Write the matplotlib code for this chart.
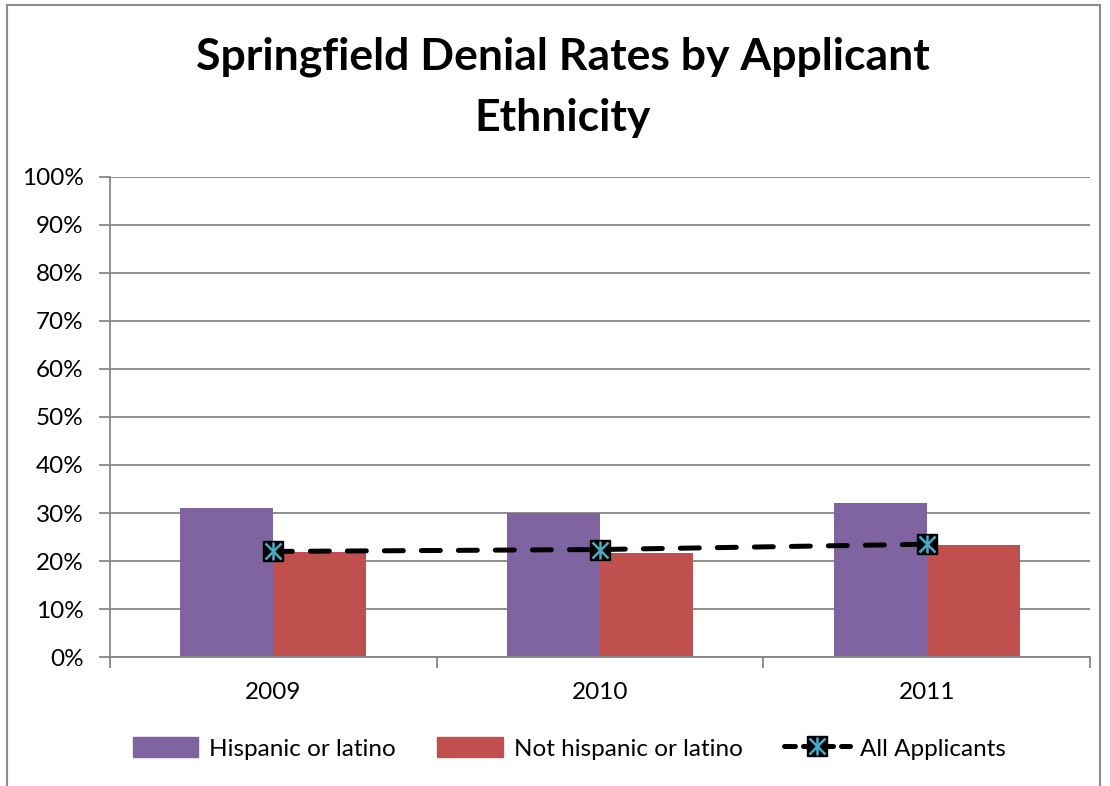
import matplotlib
matplotlib.use('Agg')
import matplotlib.pyplot as plt
from matplotlib.lines import Line2D
from matplotlib.patches import Patch, Rectangle
from matplotlib.legend_handler import HandlerTuple
import numpy as np

years = ['2009', '2010', '2011']
hispanic = [31.1, 30.0, 32.0]
not_hispanic = [21.8, 21.7, 23.3]
all_applicants = [22.0, 22.4, 23.5]

purple = '#8064A2'
red = '#C0504D'
cyan = '#4BACC6'
grid_grey = '#868686'

plt.rcParams['font.family'] = ['Lato', 'DejaVu Sans']

fig = plt.figure(figsize=(11.1, 7.86), dpi=100)
ax = fig.add_axes([0.0991, 0.164, 0.8829, 0.611])

x = np.arange(len(years))
w = 0.285
ax.bar(x - w / 2, hispanic, w, color=purple, zorder=2)
ax.bar(x + w / 2, not_hispanic, w, color=red, zorder=2)

ax.plot(x, all_applicants, color='black', lw=3.6, linestyle=(0, (3.8, 3.6)),
        dash_capstyle='round', zorder=3)
ax.plot(x, all_applicants, linestyle='none', marker='s', ms=14,
        mfc='black', mec='black', zorder=4)
ax.plot(x, all_applicants, linestyle='none', marker='x', ms=11,
        mew=1.8, color=cyan, zorder=5)
ax.plot(x, all_applicants, linestyle='none', marker='|', ms=13,
        mew=1.8, color=cyan, zorder=5)

ax.set_xlim(-0.5, len(years) - 0.5)
ax.set_ylim(0, 100)
ax.set_yticks(np.arange(0, 101, 10))
ax.set_yticklabels(['{}%'.format(v) for v in range(0, 101, 10)], fontsize=17.5)
ax.yaxis.grid(True, color=grid_grey, lw=1.3, zorder=0)
ax.set_axisbelow(True)

ax.set_xticks(np.arange(-0.5, len(years), 1.0))
ax.set_xticklabels([])
ax.set_xticks(x, minor=True)
ax.set_xticklabels(years, minor=True, fontsize=17.5)
ax.tick_params(axis='x', which='major', length=8, color=grid_grey, width=1.3)
ax.tick_params(axis='x', which='minor', length=0, pad=18)
ax.tick_params(axis='y', length=8, color=grid_grey, width=1.3, pad=11)

for s in ['top', 'right']:
    ax.spines[s].set_visible(False)
for s in ['left', 'bottom']:
    ax.spines[s].set_color(grid_grey)
    ax.spines[s].set_linewidth(1.3)

fig.text(0.507, 0.889, 'Springfield Denial Rates by Applicant\nEthnicity',
         ha='center', va='center', fontsize=32, fontweight='bold',
         linespacing=1.65)

# chart border
fig.patches.append(Rectangle((0.006, -0.05), 0.985, 1.044, transform=fig.transFigure,
                             fill=False, edgecolor='#8c8c8c', lw=1.5))

h_line = (Line2D([], [], color='black', lw=3.6, linestyle=(0, (2.2, 1.6)),
                 dash_capstyle='round'),
          Line2D([], [], linestyle='none', marker='s', ms=14, mfc='black', mec='black'),
          Line2D([], [], linestyle='none', marker='x', ms=11, mew=1.8, color=cyan),
          Line2D([], [], linestyle='none', marker='|', ms=13, mew=1.8, color=cyan))
handles = [Patch(color=purple), Patch(color=red), h_line]
labels = ['Hispanic or latino', 'Not hispanic or latino', 'All Applicants']
fig.legend(handles, labels, loc='center', bbox_to_anchor=(0.513, 0.048), ncol=3,
           frameon=False, fontsize=17.5, handlelength=2.7, handleheight=0.9,
           columnspacing=1.7, handletextpad=0.45,
           handler_map={tuple: HandlerTuple(ndivide=1, pad=0)})

fig.savefig('out.png', dpi=100)
